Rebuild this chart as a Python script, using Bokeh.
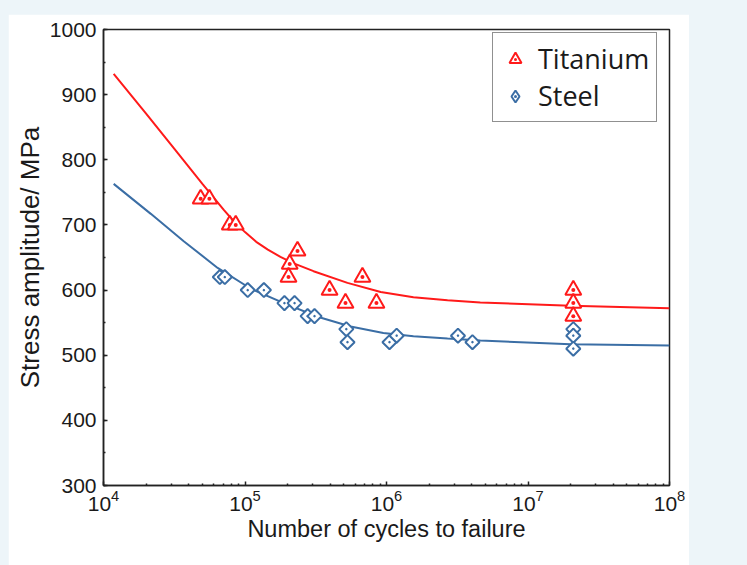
from bokeh.plotting import figure
from bokeh.models import FixedTicker, SingleIntervalTicker, Legend, LegendItem, Spacer
from bokeh.layouts import column, row
from bokeh.embed import file_html
from bokeh.resources import INLINE

# ---- data ----
ti_cycles = [4.86e4, 5.6e4, 7.8e4, 8.6e4, 2.35e5, 2.07e5, 2.03e5, 3.96e5, 6.76e5,
             5.13e5, 8.49e5, 2.09e7, 2.09e7, 2.09e7]
ti_stress = [740, 740, 700, 700, 660, 640, 620, 600, 620, 580, 580, 600, 580, 560]

st_cycles = [6.64e4, 7.2e4, 1.045e5, 1.36e5, 1.9e5, 2.24e5, 2.77e5, 3.1e5, 5.2e5,
             5.3e5, 1.05e6, 1.18e6, 3.2e6, 4.05e6, 2.09e7, 2.09e7, 2.09e7]
st_stress = [620, 620, 600, 600, 580, 580, 560, 560, 540, 520, 520, 530, 530, 520,
             540, 530, 510]

# fitted curves
ti_fit_cycles = [1.18e4, 2.0e4, 3.16e4, 5.0e4, 7.08e4, 8.3e4, 1.0e5, 1.2e5, 1.45e5,
                 1.78e5, 2.21e5, 3.05e5, 5.3e5, 9.1e5, 1.55e6, 2.7e6, 4.6e6, 2.0e7, 1.0e8]
ti_fit_stress = [932, 871, 817, 763, 723, 706, 689, 674, 662, 651, 641, 629, 611, 597,
                 589, 584.5, 581, 576, 572]

st_fit_cycles = [1.18e4, 2.16e4, 3.69e4, 6.41e4, 1.1e5, 1.88e5, 3.26e5, 5.57e5, 9.5e5,
                 1.55e6, 2.7e6, 4.6e6, 2.0e7, 1.0e8]
st_fit_stress = [763, 717, 675, 634, 602, 580, 559, 544, 534, 529, 525.5, 522.5, 517, 515]

x_major = [1e4, 1e5, 1e6, 1e7, 1e8]
x_minor = [m * 10 ** e for e in range(4, 8) for m in range(2, 10)]

RED = "#ff1a1a"
BLUE = "#3b6ea5"
TXT = "#1a1a1a"

p = figure(width=681, height=551, x_axis_type="log",
           x_range=(1e4, 1e8), y_range=(300, 1000),
           output_backend="svg", toolbar_location=None,
           min_border_left=95, min_border_right=20,
           min_border_top=15, min_border_bottom=80)

p.background_fill_color = "white"
p.border_fill_color = "white"
p.outline_line_color = "#222222"
p.outline_line_width = 1.5
p.xgrid.visible = False
p.ygrid.visible = False

p.line(ti_fit_cycles, ti_fit_stress, line_color=RED, line_width=2)
p.line(st_fit_cycles, st_fit_stress, line_color=BLUE, line_width=2)

r_ti = p.scatter(ti_cycles, ti_stress, marker="triangle_dot", size=16,
                 line_color=RED, line_width=2, fill_color="white")
# steel legend glyph (drawn underneath the first steel marker, used by the legend)
r_st_leg = p.scatter(st_cycles[:1], st_stress[:1], marker="diamond_dot", size=9,
                     line_color=BLUE, line_width=2, fill_color="white")
p.scatter(st_cycles, st_stress, marker="square_dot", size=10, angle=0.785398,
          line_color=BLUE, line_width=2, fill_color="white")

# axes
p.xaxis.ticker = FixedTicker(ticks=x_major, minor_ticks=x_minor)
p.yaxis.ticker = SingleIntervalTicker(interval=100, num_minor_ticks=2)

for ax in (p.xaxis[0], p.yaxis[0]):
    ax.axis_line_color = "#222222"
    ax.axis_line_width = 1.5
    ax.major_tick_line_color = "#222222"
    ax.minor_tick_line_color = "#222222"
    ax.major_tick_line_width = 1.5
    ax.minor_tick_line_width = 1.5
    ax.major_tick_in = 4
    ax.major_tick_out = 0
    ax.minor_tick_in = 2
    ax.minor_tick_out = 0
    ax.major_label_text_font = "Liberation Sans"
    ax.major_label_text_font_size = "21px"
    ax.major_label_text_color = TXT
    ax.axis_label_text_font = "Liberation Sans"
    ax.axis_label_text_font_style = "normal"
    ax.axis_label_text_color = TXT

p.xaxis.axis_label_text_font_size = "23.5px"
p.yaxis.axis_label_text_font_size = "26px"
p.xaxis.axis_label = "Number of cycles to failure"
p.yaxis.axis_label = "Stress amplitude/ MPa"
p.yaxis.major_label_standoff = 7
p.yaxis.axis_label_standoff = 2
p.xaxis.major_label_standoff = 4
p.xaxis.axis_label_standoff = 2

legend = Legend(items=[LegendItem(label="Titanium", renderers=[r_ti]),
                       LegendItem(label="Steel", renderers=[r_st_leg])],
                location=(389, 363))
legend.label_text_font = "Open Sans"
legend.label_text_font_size = "27px"
legend.label_text_color = TXT
legend.border_line_color = "#222222"
legend.border_line_width = 1.5
legend.background_fill_color = "white"
legend.background_fill_alpha = 1
legend.glyph_width = 30
legend.glyph_height = 30
legend.label_height = 30
legend.label_standoff = 8
legend.spacing = 0
legend.padding = 7
legend.margin = 0
p.add_layout(legend)

layout = column(Spacer(height=14), row(Spacer(width=8), p))

html = file_html(layout, INLINE)
style = "<style>html, body {background-color:#edf5f9; margin:0; overflow:hidden;}</style>"
html = html.replace("</head>", style + "</head>", 1)
open("out.html", "w").write(html)
